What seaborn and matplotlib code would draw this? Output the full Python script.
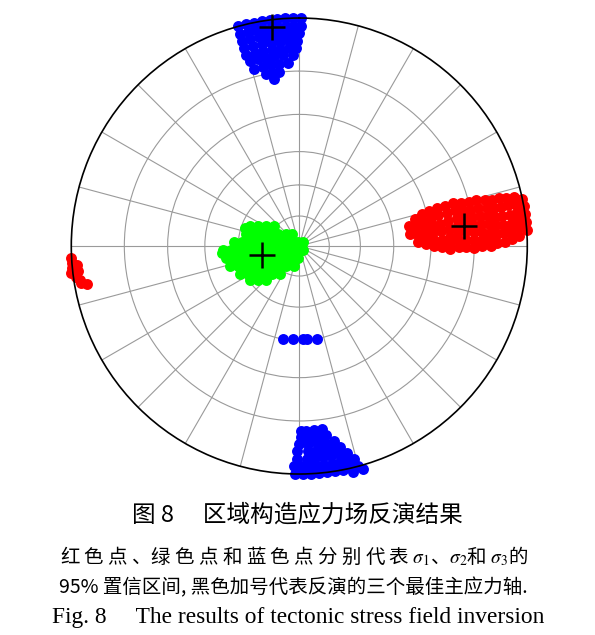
import numpy as np
import matplotlib
matplotlib.use("Agg")
import matplotlib.pyplot as plt
import seaborn as sns

# sigma1 (red) solutions, rows of (plunge, [trends]) in degrees
sigma1_rows = [
    (38, [79.5, 84]),
    (35, [77, 80.5, 84, 88]),
    (32, [75.5, 79, 82.5, 86, 89]),
    (29, [75, 78, 81, 84, 87, 90]),
    (26, [74.5, 77.5, 81, 84, 87.5, 90.5]),
    (23, [74.5, 77.5, 80.5, 83.5, 86.5, 89, 91]),
    (20, [74.5, 77, 80, 82.5, 85, 88, 90.5]),
    (17.5, [75, 77.5, 80, 82.5, 85, 88, 90.5]),
    (15, [75.5, 78, 80.5, 83, 85.5, 88, 90.5]),
    (12.5, [75.5, 78, 80.5, 83, 85.5, 88, 90]),
    (10, [76, 78.5, 81, 83.5, 86, 88, 90]),
    (8, [76.5, 79, 81.5, 84, 86.5, 89]),
    (6, [76.5, 79, 81.5, 84, 86.5, 89]),
    (4, [77, 79, 81.5, 84, 86, 88]),
    (2, [77, 79, 81, 83, 85, 87.5]),
    (0, [78, 80, 82, 84, 86]),
]
# sigma1 solutions on the opposite (west) edge
sigma1_west_trend = [267.1, 265.7, 264.4, 263.2, 265.1, 263.5, 262.2, 261.2, 260.0, 260.3]
sigma1_west_plunge = [-0.2, 0, 0, -0.5, 1.2, 1.4, 0.6, 1.5, 3.1, 1.8]

# sigma2 (green) solutions, trend / plunge
sigma2_trend = [
    292.1, 295.8, 301.0, 308.3, 288.3,
    282.7, 284.8, 287.8, 292.3, 299.4, 312.1, 328.7,
    273.5, 274.0, 274.6, 275.5, 276.8, 279.0, 283.0, 293.3, 342.0, 42.8,
    267.0, 266.6, 266.2, 265.6, 264.8, 263.7, 262.0, 258.9, 252.0, 227.1, 137.2, 264.8,
    260.7, 259.6, 258.2, 256.3, 253.8, 250.2, 244.6, 235.3, 217.8, 186.2,
    253.9, 251.9, 249.4, 246.2, 241.8, 235.7, 226.8, 213.6, 194.9,
    244.7, 241.4, 237.1, 231.6, 224.3, 214.6,
    235.4, 230.5, 224.4,
]
sigma2_plunge = [
    63.8, 67.3, 70.7, 73.9, 61.8,
    63.1, 66.8, 70.5, 74.2, 77.8, 81.0, 83.0,
    58.0, 61.7, 65.5, 69.3, 73.3, 77.2, 81.1, 85.0, 87.9, 87.2,
    53.0, 56.6, 60.3, 64.2, 67.9, 71.8, 75.7, 79.6, 83.5, 87.0, 87.3, 52.4,
    54.0, 57.5, 61.2, 64.9, 68.6, 72.3, 76.0, 79.5, 82.4, 84.0,
    55.0, 58.4, 61.9, 65.5, 69.0, 72.3, 75.4, 78.0, 79.7,
    57.9, 61.2, 64.5, 67.6, 70.5, 73.0,
    60.5, 63.7, 66.5,
]

# sigma3 (blue) solutions near north, rows of (plunge, [trends])
sigma3_north_rows = [
    (0, [344.5, 346.5, 348.5, 350.5, 352.5, 354.5, 356.5, 358.5, 0.5]),
    (2, [344.5, 346.5, 348.5, 350.5, 352.5, 354.5, 356.5, 358.5, 0.5]),
    (4, [344.5, 346.7, 349, 351.2, 353.4, 355.6, 357.8, 0]),
    (6, [344.5, 347, 349.5, 352, 354.5, 357, 359.5]),
    (8, [344.5, 347, 349.5, 352, 354.5, 357, 359]),
    (10, [345, 347.5, 350, 352.5, 355, 358]),
    (12.5, [345.7, 348.5, 351, 353.5, 356.5]),
    (15, [349, 351, 353.5]),
    (17, [351.5]),
]
# sigma3 solutions near south
sigma3_south_rows = [
    (-1, [164, 166.5]),
    (0, [165, 167, 169, 171, 173, 175, 177, 179, 181]),
    (2, [165.5, 167.5, 169.5, 171.5, 173.5, 175.5, 177.5, 179.5, 181.5]),
    (4, [167, 169, 171.3, 173.5, 175.7, 178, 180.5]),
    (6, [168.5, 170.8, 173.1, 175.4, 177.7, 180.5]),
    (8, [170, 172.5, 175, 177.5, 180]),
    (10, [172, 174.5, 177, 179.5]),
    (12, [173, 175.5, 178, 179.5]),
]
sigma3_mid_trend = [189.8, 184.1, 177.9, 175.5, 169.0]
sigma3_mid_plunge = [45.0, 45.6, 45.6, 45.5, 44.9]

# best principal axes (sigma1, sigma2, sigma3)
best_trend = [83, 256.5, 353]
best_plunge = [18, 70.7, 2]

grid_plunges = [75, 60, 45, 30, 15]


def unrows(rows):
    tr = [t for p, ts in rows for t in ts]
    pl = [p for p, ts in rows for t in ts]
    return tr, pl


def to_polar(trend, plunge):
    # stereographic projection, lower hemisphere
    theta = np.deg2rad(np.asarray(trend, dtype=float))
    r = np.tan(np.deg2rad(90 - np.asarray(plunge, dtype=float)) / 2)
    return theta, r


t1, p1 = unrows(sigma1_rows)
t1 += sigma1_west_trend
p1 += sigma1_west_plunge
t3a, p3a = unrows(sigma3_north_rows)
t3b, p3b = unrows(sigma3_south_rows)
t3 = t3a + t3b + sigma3_mid_trend
p3 = p3a + p3b + sigma3_mid_plunge

plt.rcParams["mathtext.fontset"] = "stix"
cjk = ["Noto Sans CJK SC", "DejaVu Sans"]

fig = plt.figure(figsize=(5.95, 6.35), dpi=100)
ax = fig.add_axes([0.1198, 0.2535, 0.7664, 0.7181], projection="polar")
ax.set_theta_zero_location("N")
ax.set_theta_direction(-1)
ax.set_axisbelow(True)

dot = dict(s=62, linewidth=0, clip_on=False, zorder=2, legend=False, ax=ax)
th, r = to_polar(t1, p1)
sns.scatterplot(x=th, y=r, color="#ff0000", **dot)
th, r = to_polar(sigma2_trend, sigma2_plunge)
sns.scatterplot(x=th, y=r, color="#00ff00", **dot)
th, r = to_polar(t3, p3)
sns.scatterplot(x=th, y=r, color="#0000ff", **dot)

th, r = to_polar(best_trend, best_plunge)
ax.plot(th, r, "+", color="black", ms=19, mew=1.8, clip_on=False, zorder=4)

ax.set_rlim(0, 1)
ax.set_yticks(to_polar([0] * 5, grid_plunges)[1])
ax.set_yticklabels([])
ax.set_xticks(np.deg2rad(np.arange(0, 360, 15)))
ax.set_xticklabels([])
ax.grid(True, color="#9a9a9a", linewidth=0.8)
ax.spines["polar"].set_color("black")
ax.spines["polar"].set_linewidth(1.2)
ax.set_xlabel("")
ax.set_ylabel("")

fig.text(0.499, 0.189, "图 8\u3000 区域构造应力场反演结果", ha="center", va="center",
         fontsize=17, family=cjk)
fig.text(0.494, 0.123,
         "红 色 点 、绿 色 点 和 蓝 色 点 分 别 代 表 $\\sigma_1$、$\\sigma_2$和 $\\sigma_3$的",
         ha="center", va="center", fontsize=14, family=cjk)
fig.text(0.493, 0.074, "95% 置信区间, 黑色加号代表反演的三个最佳主应力轴.",
         ha="center", va="center", fontsize=14, family=cjk)
fig.text(0.501, 0.028, "Fig. 8     The results of tectonic stress field inversion",
         ha="center", va="center", fontsize=16.8, family="Liberation Serif")

fig.savefig("out.png", dpi=100)
